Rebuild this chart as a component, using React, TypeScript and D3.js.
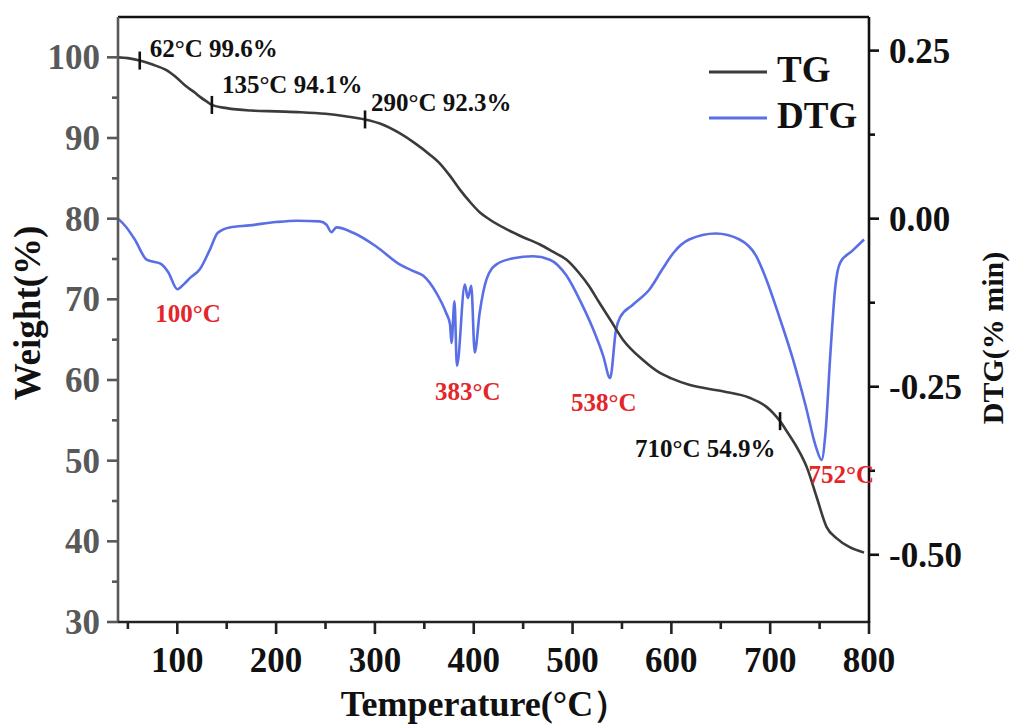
import React from "react";
import * as d3 from "d3";

// TG curve: temperature (°C) and remaining weight (%)
const tgTemp = [40, 50, 62, 75, 89, 100, 108, 118, 123, 130, 135, 150, 175, 200, 225, 250, 270, 290, 305, 325, 340, 355, 366, 376, 386, 396, 406, 416, 433, 450, 467, 480, 494, 507, 517, 527, 538, 551, 571, 588, 600, 618, 652, 679, 696, 703, 710, 716, 730, 737, 747, 757, 767, 780, 795];
const tgWeight = [100.0, 99.9, 99.6, 99.1, 98.4, 97.4, 96.5, 95.6, 95.1, 94.5, 94.1, 93.7, 93.4, 93.3, 93.2, 93.0, 92.7, 92.3, 91.8, 90.6, 89.4, 88.0, 86.8, 85.3, 83.6, 82.1, 80.8, 79.9, 78.7, 77.7, 76.8, 75.9, 74.9, 73.2, 71.6, 69.6, 67.5, 65.0, 62.5, 60.9, 60.2, 59.4, 58.6, 57.8, 56.7, 55.9, 54.9, 53.8, 51.0, 49.2, 45.5, 41.8, 40.4, 39.3, 38.6];

// DTG curve: temperature (°C) and rate (%/min)
const dtgTemp = [40, 48, 57, 69, 76, 83, 91, 100, 107, 113, 123, 133, 141, 153, 173, 200, 221, 244, 251, 256, 261, 278, 301, 325, 339, 349, 362, 372, 376, 377.5, 380.5, 383, 391, 394, 397.5, 401, 406, 413, 423, 440, 460, 477, 494, 507, 521, 531, 538, 544, 548, 561, 578, 591, 602, 618, 645, 669, 686, 696, 709, 723, 736, 746, 752, 756, 761, 766, 771, 783, 795];
const dtgRate = [0.0, -0.012, -0.031, -0.061, -0.064, -0.067, -0.08, -0.105, -0.097, -0.088, -0.075, -0.046, -0.021, -0.013, -0.01, -0.005, -0.003, -0.004, -0.009, -0.02, -0.013, -0.021, -0.041, -0.068, -0.078, -0.085, -0.11, -0.14, -0.157, -0.185, -0.123, -0.219, -0.098, -0.118, -0.1, -0.199, -0.14, -0.09, -0.068, -0.059, -0.056, -0.061, -0.085, -0.12, -0.165, -0.204, -0.237, -0.165, -0.147, -0.128, -0.105, -0.075, -0.051, -0.031, -0.022, -0.031, -0.056, -0.09, -0.145, -0.209, -0.279, -0.338, -0.359, -0.318, -0.199, -0.1, -0.065, -0.048, -0.031];

// axis ticks
const xMajor = [100, 200, 300, 400, 500, 600, 700, 800];
const xMinor = [50, 150, 250, 350, 450, 550, 650, 750];
const leftMajor = [30, 40, 50, 60, 70, 80, 90, 100];
const leftMinor = [35, 45, 55, 65, 75, 85, 95];
const rightMajor = [0.25, 0, -0.25, -0.5];
const rightMajorLabels = ["0.25", "0.00", "-0.25", "-0.50"];
const rightMinor = [0.125, -0.125, -0.375];

// weight-loss step markers on the TG curve
const stepTemp = [62, 135, 290, 710];
const stepWeight = [99.6, 94.1, 92.3, 54.9];
const stepLabels = ["62°C 99.6%", "135°C 94.1%", "290°C 92.3%", "710°C 54.9%"];

// DTG peaks
const peakTemp = [100, 383, 538, 752];
const peakRate = [-0.105, -0.219, -0.237, -0.359];
const peakLabels = ["100°C", "383°C", "538°C", "752°C"];

const FONT = "'Liberation Serif', 'Times New Roman', serif";
const TG_COLOR = "#3b3b3b";
const DTG_COLOR = "#5a6fe6";
const RED = "#e3262a";
const LEFT_GRAY = "#595959";

export default function App() {
  const left = 118, right = 869, top = 17, bottom = 622;
  const x = d3.scaleLinear().domain([40, 800]).range([left, right]);
  const yL = d3.scaleLinear().domain([30, 105]).range([bottom, top]);
  const yR = d3.scaleLinear().domain([-0.6, 0.3]).range([bottom, top]);

  const tgLine = d3
    .line<number>()
    .x((_, i) => x(tgTemp[i]))
    .y((v) => yL(v))
    .curve(d3.curveMonotoneX);
  const dtgLine = d3
    .line<number>()
    .x((_, i) => x(dtgTemp[i]))
    .y((v) => yR(v))
    .curve(d3.curveMonotoneX);

  // label offsets relative to the marker / peak point
  const stepDx = [10, 10, 6, -145];
  const stepDy = [-4, -12, -8, 36];
  const peakDx = [-22, -22, -39, -13];
  const peakDy = [33, 34, 33, 23];

  return (
    <div style={{ position: "absolute", left: 0, top: 0 }}>
      <svg width={1012} height={725} style={{ display: "block", background: "#fff" }} fontFamily={FONT} fontWeight="bold">
        {/* curves */}
        <path d={dtgLine(dtgRate) || ""} fill="none" stroke={DTG_COLOR} strokeWidth={2.6} strokeLinejoin="round" />
        <path d={tgLine(tgWeight) || ""} fill="none" stroke={TG_COLOR} strokeWidth={2.6} strokeLinejoin="round" />

        {/* frame: top line */}
        <line x1={left} x2={right} y1={top} y2={top} stroke="#111" strokeWidth={2.6} />

        {/* left axis */}
        <line x1={left} x2={left} y1={top} y2={bottom + 1} stroke={LEFT_GRAY} strokeWidth={2.6} />
        {leftMajor.map((v) => (
          <g key={"lm" + v}>
            <line x1={left - 11} x2={left} y1={yL(v)} y2={yL(v)} stroke={LEFT_GRAY} strokeWidth={2.6} />
            <text x={left - 18} y={yL(v)} dy="0.34em" textAnchor="end" fontSize={35} fill={LEFT_GRAY}>
              {v}
            </text>
          </g>
        ))}
        {leftMinor.map((v) => (
          <line key={"ln" + v} x1={left - 6} x2={left} y1={yL(v)} y2={yL(v)} stroke={LEFT_GRAY} strokeWidth={2.6} />
        ))}

        {/* bottom axis */}
        <line x1={left} x2={right} y1={bottom} y2={bottom} stroke="#222" strokeWidth={2.6} />
        {xMajor.map((v) => (
          <g key={"xm" + v}>
            <line x1={x(v)} x2={x(v)} y1={bottom} y2={bottom + 12} stroke="#222" strokeWidth={2.6} />
            <text x={x(v)} y={672} textAnchor="middle" fontSize={35} fill="#111">
              {v}
            </text>
          </g>
        ))}
        {xMinor.map((v) => (
          <line key={"xn" + v} x1={x(v)} x2={x(v)} y1={bottom} y2={bottom + 7} stroke="#222" strokeWidth={2.6} />
        ))}

        {/* right axis */}
        <line x1={right} x2={right} y1={top} y2={bottom + 1} stroke="#111" strokeWidth={2.6} />
        {rightMajor.map((v, i) => (
          <g key={"rm" + v}>
            <line x1={right} x2={right + 10} y1={yR(v)} y2={yR(v)} stroke="#111" strokeWidth={2.6} />
            <text x={889} y={yR(v)} dy="0.34em" textAnchor="start" fontSize={35} fill="#111">
              {rightMajorLabels[i]}
            </text>
          </g>
        ))}
        {rightMinor.map((v) => (
          <line key={"rn" + v} x1={right} x2={right + 6} y1={yR(v)} y2={yR(v)} stroke="#111" strokeWidth={2.6} />
        ))}

        {/* axis titles */}
        <text x={485} y={716} textAnchor="middle" fontSize={36} fill="#111">
          Temperature(°C）
        </text>
        <text transform="translate(40,313) rotate(-90)" textAnchor="middle" fontSize={37} fill="#111">
          Weight(%)
        </text>
        <text transform="translate(1003,338) rotate(-90)" textAnchor="middle" fontSize={30} fill="#111">
          DTG(% min)
        </text>

        {/* legend */}
        <line x1={709} x2={767} y1={72} y2={72} stroke={TG_COLOR} strokeWidth={3} />
        <text x={777} y={82} fontSize={37} fill="#111">TG</text>
        <line x1={709} x2={767} y1={118} y2={118} stroke={DTG_COLOR} strokeWidth={3} />
        <text x={777} y={128} fontSize={37} fill="#111">DTG</text>

        {/* TG step markers */}
        {stepTemp.map((t, i) => (
          <g key={"st" + t}>
            <line x1={x(t)} x2={x(t)} y1={yL(stepWeight[i]) - 9} y2={yL(stepWeight[i]) + 9} stroke="#111" strokeWidth={2.6} />
            <text x={x(t) + stepDx[i]} y={yL(stepWeight[i]) + stepDy[i]} fontSize={25} fill="#111">
              {stepLabels[i]}
            </text>
          </g>
        ))}

        {/* DTG peak labels */}
        {peakTemp.map((t, i) => (
          <text key={"pk" + t} x={x(t) + peakDx[i]} y={yR(peakRate[i]) + peakDy[i]} fontSize={25} fill={RED}>
            {peakLabels[i]}
          </text>
        ))}
      </svg>
    </div>
  );
}
